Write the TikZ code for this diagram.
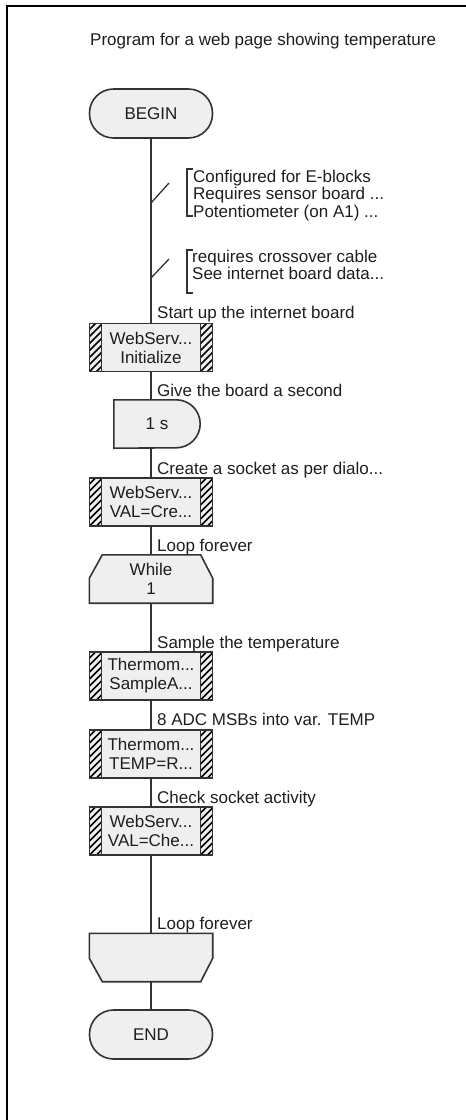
\documentclass[tikz,border=0pt]{standalone}
\usepackage{fontspec}
\setmainfont{Liberation Sans}
\usetikzlibrary{backgrounds}

\definecolor{linec}{HTML}{333333}
\definecolor{boxfill}{HTML}{EFEFEF}
\definecolor{txt}{HTML}{1E1E1E}

\newcommand{\hatchstrip}[1]{%
  \begin{scope}
    \clip ([xshift=#1]path picture bounding box.south west) rectangle ([xshift=#1+12pt]path picture bounding box.north west);
    \foreach \k in {-3,...,8}
      \draw[black, line width=1.7pt] ([xshift=#1, yshift=\k*7pt]path picture bounding box.south west) -- ++(20,20);
  \end{scope}}

\tikzset{
  every node/.style={font=\fontsize{17}{19}\selectfont, text=txt},
  flow/.style={draw=linec, line width=1.6pt},
  ghost/.style={minimum width=123pt, minimum height=48pt, inner sep=0pt, align=center},
  term/.style={ghost, flow, fill=boxfill, rounded corners=24pt, minimum height=49pt},
  macrobox/.style={ghost, flow, fill=boxfill,
    path picture={
      \hatchstrip{0pt}
      \hatchstrip{111pt}
      \draw[flow] ([xshift=12pt]path picture bounding box.south west) -- ([xshift=12pt]path picture bounding box.north west);
      \draw[flow] ([xshift=-12pt]path picture bounding box.south east) -- ([xshift=-12pt]path picture bounding box.north east);
    }},
  lbl/.style={anchor=base west, inner sep=0pt},
  bracket/.style={draw=linec, line width=1.3pt},
}

\begin{document}
\begin{tikzpicture}[x=1pt,y=1pt]
  \useasboundingbox (0,0) rectangle (466,-1120);
  % frame
  \draw[line width=2pt, black] (6.5,-1120) -- (6.5,-5.8) -- (466,-5.8);

  \node[lbl] (title) at (90,-45) {Program for a web page showing temperature};

  % boxes
  \node[term] (begin) at (151,-113.5) {BEGIN};
  \node[macrobox] (m1) at (151,-347.5) {WebServ...\\Initialize};
  \node[ghost, minimum width=86pt] (dly) at (157,-424) {1 s};
  \node[macrobox] (m2) at (151,-502) {WebServ...\\VAL=Cre...};
  \node[ghost] (wh) at (151,-579) {While\\1};
  \node[macrobox] (m3) at (151,-676) {Thermom...\\SampleA...};
  \node[macrobox] (m4) at (151,-754) {Thermom...\\TEMP=R...};
  \node[macrobox] (m5) at (151,-831) {WebServ...\\VAL=Che...};
  \node[ghost] (lpe) at (151,-957.5) {};
  \node[term] (end) at (151,-1034.5) {END};

  \begin{scope}[on background layer]
    \filldraw[flow, fill=boxfill] (dly.north west) -- ([xshift=-24pt]dly.north east)
      arc[start angle=90, end angle=-90, radius=24pt] -- (dly.south west) -- cycle;
    \filldraw[flow, fill=boxfill] ([xshift=13pt]wh.north west) -- ([xshift=-12pt]wh.north east)
      -- ([yshift=25pt]wh.south east) -- (wh.south east) -- (wh.south west)
      -- ([yshift=25pt]wh.south west) -- cycle;
    \filldraw[flow, fill=boxfill] (lpe.north west) -- (lpe.north east)
      -- ([yshift=-25pt]lpe.north east) -- ([xshift=-12pt]lpe.south east)
      -- ([xshift=13pt]lpe.south west) -- ([yshift=-25pt]lpe.north west) -- cycle;
  \end{scope}

  % flow lines
  \draw[flow] (begin.south) -- (m1.north);
  \draw[flow] (m1.south) -- (m1.south |- dly.north);
  \draw[flow] (m2.north |- dly.south) -- (m2.north);
  \draw[flow] (m2.south) -- (wh.north);
  \draw[flow] (wh.south) -- (m3.north);
  \draw[flow] (m3.south) -- (m4.north);
  \draw[flow] (m4.south) -- (m5.north);
  \draw[flow] (m5.south) -- (lpe.north);
  \draw[flow] (lpe.south) -- (end.north);

  % comments
  \node[lbl] (c1a) at (193,-182) {Configured for E-blocks};
  \node[lbl] (c1b) at (193,-199.5) {Requires sensor board ...};
  \node[lbl] (c1c) at (193,-217) {Potentiometer (on A1) ...};
  \draw[bracket] (193,-169) -- (187,-169) -- (187,-216) -- (193,-216);
  \draw[bracket] (151,-203) -- (169,-183);

  \node[lbl] (c2a) at (192,-262) {requires crossover cable};
  \node[lbl] (c2b) at (192,-279) {See internet board data...};
  \draw[bracket] (193,-250) -- (187,-250) -- (187,-293) -- (193,-293);
  \draw[bracket] (151,-278) -- (169,-259);

  % labels on the flow line
  \node[lbl] (l1) at (157,-318) {Start up the internet board};
  \node[lbl] (l2) at (157,-396) {Give the board a second};
  \node[lbl] (l3) at (157,-474) {Create a socket as per dialo...};
  \node[lbl] (l4) at (157,-551) {Loop forever};
  \node[lbl] (l5) at (157,-648) {Sample the temperature};
  \node[lbl] (l6) at (157,-725) {8 ADC MSBs into var. TEMP};
  \node[lbl] (l7) at (157,-803) {Check socket activity};
  \node[lbl] (l8) at (157,-929) {Loop forever};
\end{tikzpicture}
\end{document}
